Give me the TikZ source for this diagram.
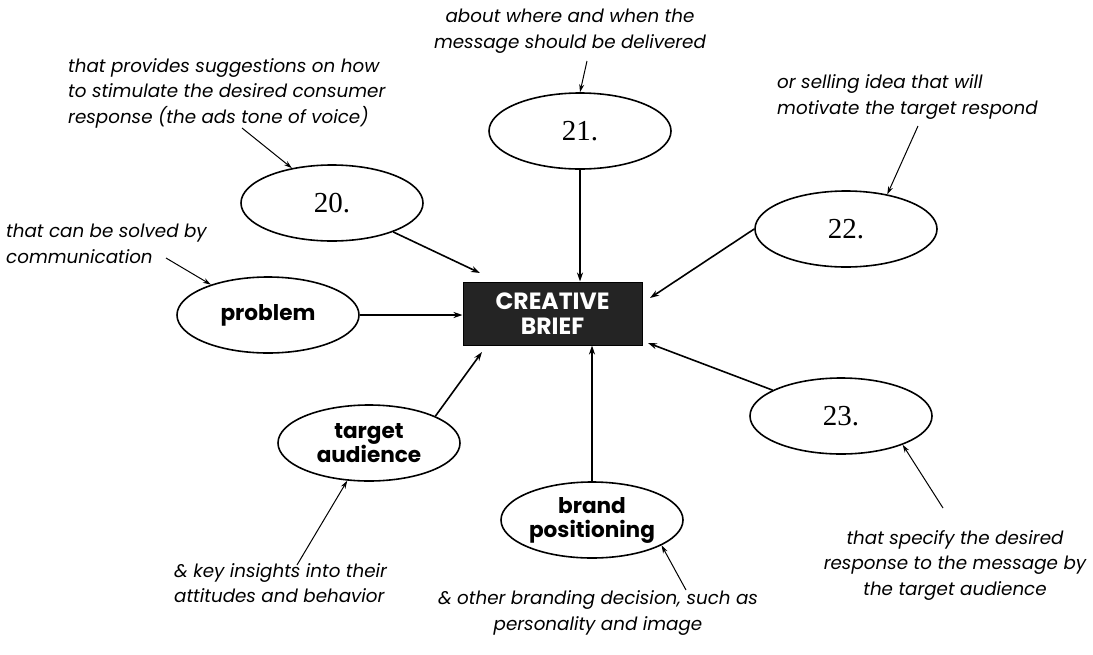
\documentclass[tikz,border=0pt]{standalone}
\usepackage{fontspec}
\setmainfont{Poppins}
\newfontfamily\numfont{Liberation Serif}
\usetikzlibrary{shapes.geometric,arrows.meta,calc}
\begin{document}
\begin{tikzpicture}[x=1pt,y=-1pt,
  bub/.style={ellipse,draw,line width=1.6pt,inner sep=0pt,minimum width=182pt,minimum height=76pt},
  numtxt/.style={font=\numfont\fontsize{29}{29}\selectfont},
  labtxt/.style={font=\bfseries\fontsize{21.6}{24}\selectfont,align=center},
  note/.style={font=\itshape\fontsize{18.3}{25.5}\selectfont,inner sep=0pt},
  link/.style={line width=1.6pt,-{Stealth[length=9pt,width=6pt]}},
  cue/.style={line width=1pt,-{Stealth[length=8pt,width=5pt]}}]

\useasboundingbox (0,0) rectangle (1093,654);
\fill[white] (0,0) rectangle (1093,654);

\node[draw=black,fill=black!86,line width=1pt,minimum width=179pt,minimum height=63pt,inner sep=0pt,text=white,font=\bfseries\fontsize{23.5}{25}\selectfont,align=center] (box) at (552.5,313.5) {CREATIVE\\BRIEF};

\node[bub,numtxt] (e20) at (332,203) {20.};
\node[bub,numtxt] (e21) at (580,131) {21.};
\node[bub,numtxt] (e22) at (846,229) {22.};
\node[bub,numtxt] (e23) at (841,416) {23.};
\node[bub,labtxt] (prob) at (268,315) {problem};
\node[bub,labtxt] (targ) at (369,443) {target\\audience};
\node[bub,labtxt] (brand) at (592,520) {brand\\positioning};

\coordinate (h20) at (480,273);
\coordinate (h22) at (650,298);
\coordinate (h23) at (648,343);
\coordinate (ht) at (482,352);

\draw[link] (e20) -- (h20);
\draw[link] (e21) -- (e21 |- box.north);
\draw[link] (e22.180) -- (h22);
\draw[link] (e23) -- (h23);
\draw[link] (prob) -- (prob -| box.west);
\draw[link] (targ.22) -- (ht);
\draw[link] (brand) -- (brand |- box.south);

\node[note,align=center] (n21) at (570,31) {about where and when the\\message should be delivered};
\coordinate (c21) at (587,61);
\draw[cue] (c21) -- (e21.north);

\node[note,align=left,anchor=west] (n20) at (68,93) {that provides suggestions on how\\to stimulate the desired consumer\\response (the ads tone of voice)};
\coordinate (c20) at (242,128);
\draw[cue] (c20) -- (e20.139);

\node[note,align=left,anchor=west] (nprob) at (6,244) {that can be solved by\\communication};
\coordinate (cprob) at (166,258);
\draw[cue] (cprob) -- (prob.152);

\node[note,align=left,anchor=west] (n22) at (777,97) {or selling idea that will\\motivate the target respond};
\coordinate (c22) at (918,126);
\draw[cue] (c22) -- (e22.40);

\node[note,align=center] (n23) at (955,565) {that specify the desired\\response to the message by\\the target audience};
\coordinate (c23) at (943,508);
\draw[cue] (c23) -- (e23.-25);

\node[note,align=left,anchor=west] (ntarg) at (174,583) {\& key insights into their\\attitudes and behavior};
\coordinate (ctarg) at (297,565);
\draw[cue] (ctarg) -- (targ.-120);

\node[note,align=center] (nbrand) at (598,613) {\& other branding decision, such as\\personality and image};
\coordinate (cbrand) at (686,590);
\draw[cue] (cbrand) -- (brand.-20);
\end{tikzpicture}
\end{document}
